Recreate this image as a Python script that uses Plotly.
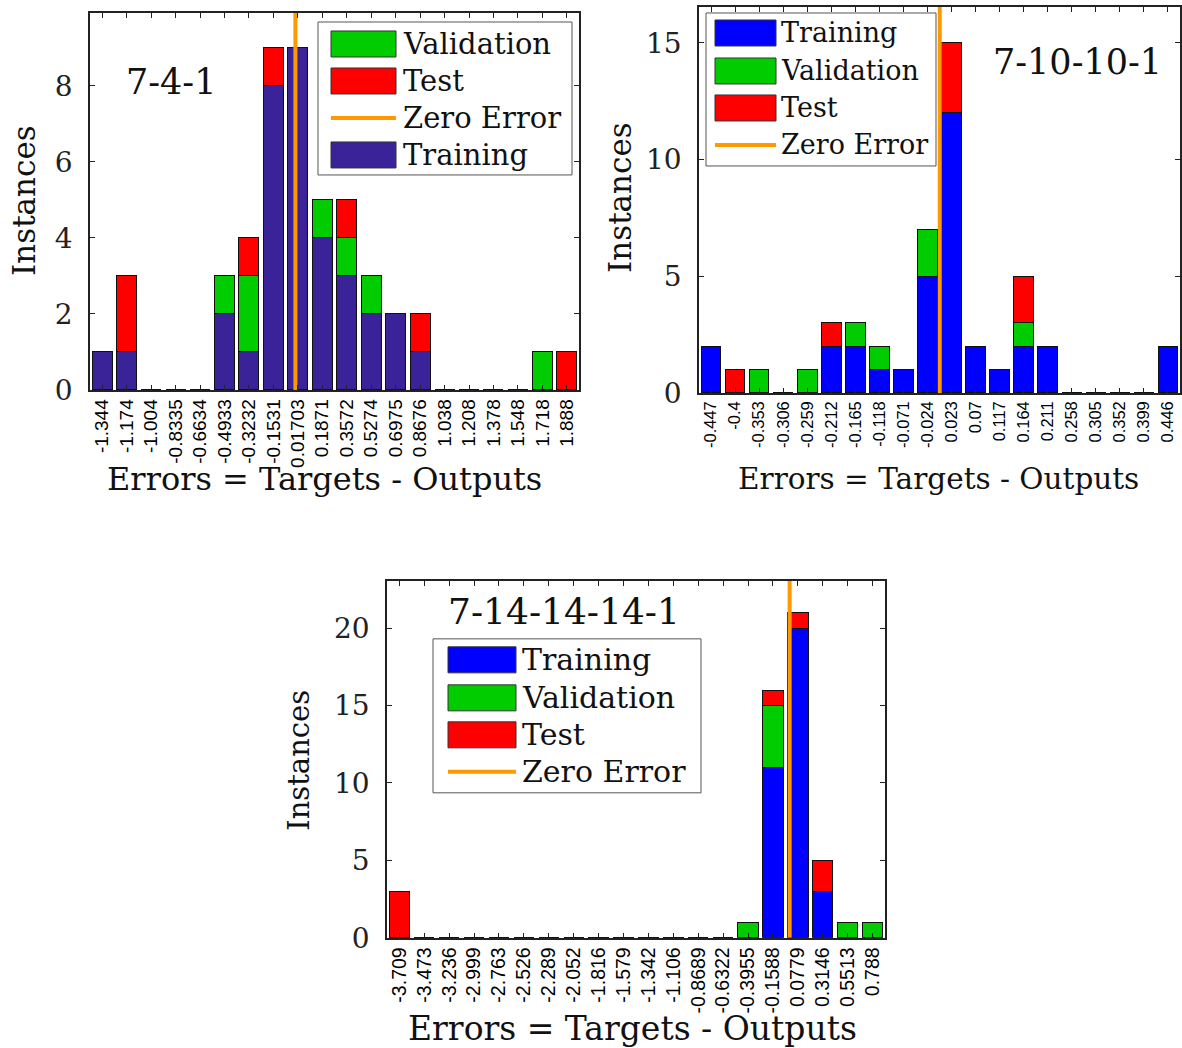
import plotly.graph_objects as go

# ---------------- data ----------------
labels_a = ["-1.344", "-1.174", "-1.004", "-0.8335", "-0.6634", "-0.4933", "-0.3232",
            "-0.1531", "0.01703", "0.1871", "0.3572", "0.5274", "0.6975", "0.8676",
            "1.038", "1.208", "1.378", "1.548", "1.718", "1.888"]
train_a = [1, 1, 0, 0, 0, 2, 1, 8, 9, 4, 3, 2, 2, 1, 0, 0, 0, 0, 0, 0]
valid_a = [0, 0, 0, 0, 0, 1, 2, 0, 0, 1, 1, 1, 0, 0, 0, 0, 0, 0, 1, 0]
test_a = [0, 2, 0, 0, 0, 0, 1, 1, 0, 0, 1, 0, 0, 1, 0, 0, 0, 0, 0, 1]

labels_b = ["-0.447", "-0.4", "-0.353", "-0.306", "-0.259", "-0.212", "-0.165", "-0.118",
            "-0.071", "-0.024", "0.023", "0.07", "0.117", "0.164", "0.211", "0.258",
            "0.305", "0.352", "0.399", "0.446"]
train_b = [2, 0, 0, 0, 0, 2, 2, 1, 1, 5, 12, 2, 1, 2, 2, 0, 0, 0, 0, 2]
valid_b = [0, 0, 1, 0, 1, 0, 1, 1, 0, 2, 0, 0, 0, 1, 0, 0, 0, 0, 0, 0]
test_b = [0, 1, 0, 0, 0, 1, 0, 0, 0, 0, 3, 0, 0, 2, 0, 0, 0, 0, 0, 0]

labels_c = ["-3.709", "-3.473", "-3.236", "-2.999", "-2.763", "-2.526", "-2.289", "-2.052",
            "-1.816", "-1.579", "-1.342", "-1.106", "-0.8689", "-0.6322", "-0.3955",
            "-0.1588", "0.0779", "0.3146", "0.5513", "0.788"]
train_c = [0, 0, 0, 0, 0, 0, 0, 0, 0, 0, 0, 0, 0, 0, 0, 11, 20, 3, 0, 0]
valid_c = [0, 0, 0, 0, 0, 0, 0, 0, 0, 0, 0, 0, 0, 0, 1, 4, 0, 0, 1, 1]
test_c = [3, 0, 0, 0, 0, 0, 0, 0, 0, 0, 0, 0, 0, 0, 0, 1, 1, 2, 0, 0]

titles = ["7-4-1", "7-10-10-1", "7-14-14-14-1"]
ymax = [9.92, 16.53, 23.05]
yticks = [[0, 2, 4, 6, 8], [0, 5, 10, 15], [0, 5, 10, 15, 20]]

# ---------------- style ----------------
W, H = 1182, 1048
SY = 0.984  # vertical compensation observed in the rendered page
SERIF = "DejaVu Serif"
SANS = "Liberation Sans"
C_TRAIN_A = "#3a2398"
C_TRAIN = "#0000ff"
C_VALID = "#00cc00"
C_TEST = "#ff0000"
C_ZERO = "#ff9900"


def px(x):
    return x / W


def py(y):
    return 1 - y / (H * SY)


fig = go.Figure()

panels = [
    dict(labels=labels_a, tr=train_a, va=valid_a, te=test_a, ctr=C_TRAIN_A,
         box=(90, 579, 13, 390), tick=19),
    dict(labels=labels_b, tr=train_b, va=valid_b, te=test_b, ctr=C_TRAIN,
         box=(699, 1180, 7, 393), tick=16.5),
    dict(labels=labels_c, tr=train_c, va=valid_c, te=test_c, ctr=C_TRAIN,
         box=(387, 885, 581, 938), tick=19.5),
]

for i, p in enumerate(panels):
    sfx = "" if i == 0 else str(i + 1)
    centers = [float(s) for s in p["labels"]]
    bw = (centers[-1] - centers[0]) / (len(centers) - 1)
    for vals, col, name in [(p["tr"], p["ctr"], "Training"),
                            (p["va"], C_VALID, "Validation"),
                            (p["te"], C_TEST, "Test")]:
        fig.add_trace(go.Bar(
            x=centers, y=vals, name=name, width=bw * 0.82,
            marker=dict(color=col, line=dict(color="#111111", width=1)),
            xaxis="x" + sfx, yaxis="y" + sfx, showlegend=False))
    fig.add_trace(go.Scatter(
        x=[0, 0], y=[0, ymax[i]], mode="lines", name="Zero Error",
        line=dict(color=C_ZERO, width=4),
        xaxis="x" + sfx, yaxis="y" + sfx, showlegend=False))

    x0, x1, y0, y1 = p["box"]
    fig.layout["xaxis" + sfx] = dict(
        domain=[px(x0), px(x1)], anchor="y" + sfx,
        range=[centers[0] - bw / 2, centers[-1] + bw / 2],
        tickmode="array", tickvals=centers, ticktext=p["labels"],
        tickangle=-90, tickfont=dict(family=SANS, size=p["tick"], color="black"),
        ticks="inside", ticklen=5, tickcolor="#222", mirror="ticks",
        showline=True, linecolor="#222", linewidth=1.5,
        showgrid=False, zeroline=False, fixedrange=True)
    fig.layout["yaxis" + sfx] = dict(
        domain=[py(y1), py(y0)], anchor="x" + sfx,
        range=[0, ymax[i]], tickmode="array", tickvals=yticks[i],
        tickfont=dict(family=SERIF, size=28, color="#222"),
        ticks="inside", ticklen=5, tickcolor="#222", mirror="ticks",
        showline=True, linecolor="#222", linewidth=1.5,
        showgrid=False, zeroline=False, ticklabelstandoff=10, fixedrange=True)

annotations = []
shapes = []

# axis titles
for (xc, yc, sz) in [(324, 479, 32), (938, 479, 29.5), (632, 1029, 33)]:
    annotations.append(dict(x=px(xc), y=py(yc), xref="paper", yref="paper",
                            text="Errors = Targets - Outputs", showarrow=False,
                            font=dict(family=SERIF, size=sz, color="#111"),
                            xanchor="center", yanchor="middle"))
for (xc, yc, sz) in [(24, 201, 31), (620, 198, 31), (299, 761, 29)]:
    annotations.append(dict(x=px(xc), y=py(yc), xref="paper", yref="paper",
                            text="Instances", showarrow=False, textangle=-90,
                            font=dict(family=SERIF, size=sz, color="#111"),
                            xanchor="center", yanchor="middle"))

# panel labels
for (txt, xl, yc, sz) in [(titles[0], 124, 82, 35), (titles[1], 991, 62, 35),
                          (titles[2], 446, 612, 36)]:
    annotations.append(dict(x=px(xl), y=py(yc), xref="paper", yref="paper",
                            text=txt, showarrow=False,
                            font=dict(family=SERIF, size=sz, color="#111"),
                            xanchor="left", yanchor="middle"))

# legends (manual, to match the large swatches)
legends = [
    dict(box=(318, 572, 22, 175), sx=(331, 396), tx=401, rows=[44, 81, 118, 155], fs=29,
         items=[("Validation", C_VALID), ("Test", C_TEST), ("Zero Error", None),
                ("Training", C_TRAIN_A)]),
    dict(box=(706, 936, 13, 166), sx=(715, 776), tx=779, rows=[33, 71, 108, 145], fs=27,
         items=[("Training", C_TRAIN), ("Validation", C_VALID), ("Test", C_TEST),
                ("Zero Error", None)]),
    dict(box=(433, 701, 639, 793), sx=(448, 516), tx=520, rows=[660, 698, 735, 772], fs=30,
         items=[("Training", C_TRAIN), ("Validation", C_VALID), ("Test", C_TEST),
                ("Zero Error", None)]),
]
for lg in legends:
    bx0, bx1, by0, by1 = lg["box"]
    shapes.append(dict(type="rect", xref="paper", yref="paper",
                       x0=px(bx0), x1=px(bx1), y0=py(by1), y1=py(by0),
                       line=dict(color="#555", width=1), fillcolor="white", layer="above"))
    sx0, sx1 = lg["sx"]
    for (name, col), yc in zip(lg["items"], lg["rows"]):
        if col is None:
            shapes.append(dict(type="line", xref="paper", yref="paper",
                               x0=px(sx0), x1=px(sx1), y0=py(yc), y1=py(yc),
                               line=dict(color=C_ZERO, width=4), layer="above"))
        else:
            shapes.append(dict(type="rect", xref="paper", yref="paper",
                               x0=px(sx0), x1=px(sx1), y0=py(yc + 13), y1=py(yc - 13),
                               line=dict(color="#333", width=1), fillcolor=col,
                               layer="above"))
        annotations.append(dict(x=px(lg["tx"]), y=py(yc), xref="paper", yref="paper",
                                text=name, showarrow=False,
                                font=dict(family=SERIF, size=lg["fs"], color="#111"),
                                xanchor="left", yanchor="middle"))

fig.update_layout(
    width=W, height=H, margin=dict(l=0, r=0, t=0, b=0),
    barmode="stack", bargap=0.18,
    paper_bgcolor="white", plot_bgcolor="white",
    annotations=annotations, shapes=shapes, showlegend=False,
)

fig.write_html("out.html")
